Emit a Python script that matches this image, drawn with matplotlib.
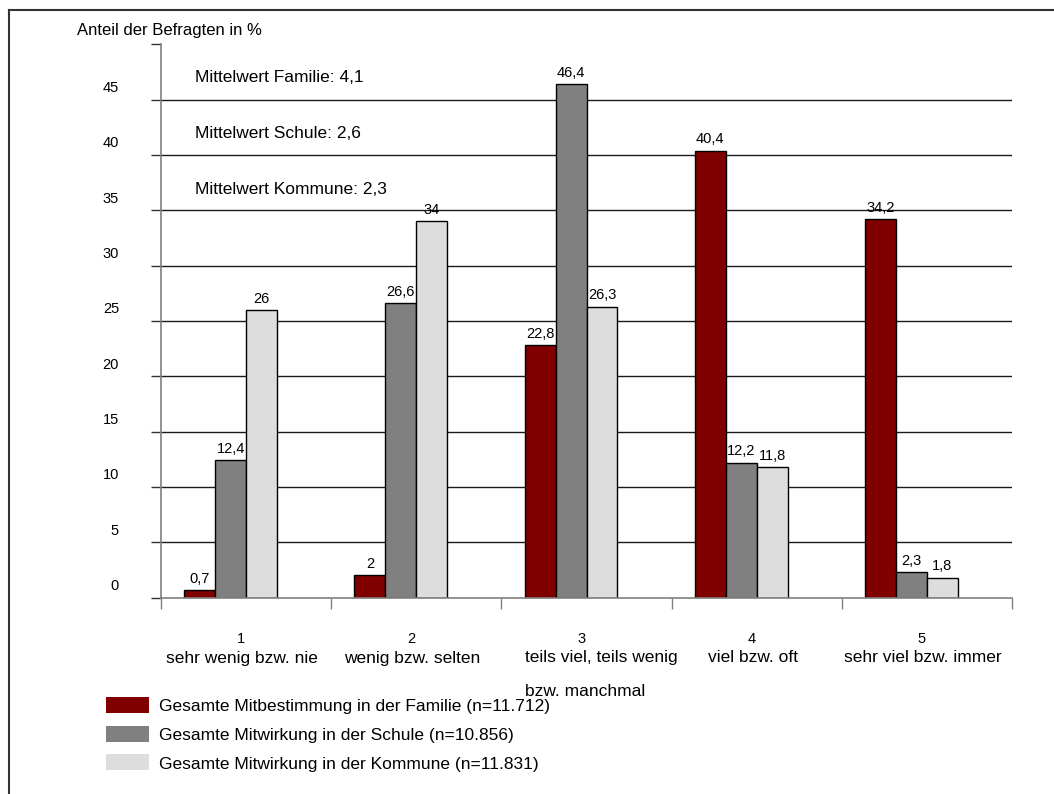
import numpy as np
import matplotlib
matplotlib.use("Agg")
import matplotlib.pyplot as plt
import matplotlib.transforms as mtransforms
from matplotlib.patches import Rectangle
from matplotlib.lines import Line2D

plt.rcParams["font.family"] = ["Liberation Sans", "DejaVu Sans"]

###############################################
# Data
###############################################

category_numbers = ["1", "2", "3", "4", "5"]
category_texts = ["sehr wenig bzw. nie", "wenig bzw. selten",
                  "teils viel, teils wenig\n\nbzw. manchmal",
                  "viel bzw. oft", "sehr viel bzw. immer"]

familie = [0.7, 2.0, 22.8, 40.4, 34.2]
schule = [12.4, 26.6, 46.4, 12.2, 2.3]
kommune = [26.0, 34.0, 26.3, 11.8, 1.8]

series_names = ["Gesamte Mitbestimmung in der Familie (n=11.712)",
                "Gesamte Mitwirkung in der Schule (n=10.856)",
                "Gesamte Mitwirkung in der Kommune (n=11.831)"]
series_colors = ["#800000", "#808080", "#dddddd"]

mean_notes = ["Mittelwert Familie: 4,1",
              "Mittelwert Schule: 2,6",
              "Mittelwert Kommune: 2,3"]

###############################################
# Figure
###############################################

W, H = 1054, 794
fig = plt.figure(figsize=(W / 100, H / 100), dpi=100)
ax = fig.add_axes([161 / W, 1 - 597.5 / H, (1012 - 161) / W, (597.5 - 44.3) / H])

x = np.arange(len(familie))
w = 0.182
# four slots per category, the last one stays empty
for k, (vals, col) in enumerate(zip([familie, schule, kommune], series_colors)):
    xs = x + (k - 1.5) * w
    ax.bar(xs, vals, width=w, color=col, edgecolor="black", linewidth=1.0, zorder=3)
    for xi, v in zip(xs, vals):
        ax.annotate(f"{v:g}".replace(".", ","), (xi, v), xytext=(0, 3),
                    textcoords="offset points", ha="center", va="bottom", fontsize=10.5)

ax.set_xlim(-0.5, len(familie) - 0.5)
ax.set_ylim(0, 50)

# horizontal lines at every 5 %, none at the top
for y in range(5, 50, 5):
    ax.axhline(y, color="#1a1a1a", linewidth=1.0, zorder=1)

ax.set_yticks(np.arange(0, 51, 5))
ax.set_yticklabels([str(v) for v in range(0, 50, 5)] + [""])
ax.tick_params(axis="y", length=7.2, width=1, color="#333333", pad=23, labelsize=10.5)
for lab in ax.get_yticklabels():
    lab.set_transform(lab.get_transform() +
                      mtransforms.ScaledTranslation(0, 13 / 100, fig.dpi_scale_trans))

ax.set_xticks(np.arange(-0.5, len(familie), 1.0))
ax.set_xticklabels([])
ax.tick_params(axis="x", length=8, width=1, color="#808080")

for side in ["top", "right"]:
    ax.spines[side].set_visible(False)
for side in ["left", "bottom"]:
    ax.spines[side].set_color("#808080")
    ax.spines[side].set_linewidth(1.2)
ax.spines["bottom"].set_zorder(4)

# category labels under the axis
tr = mtransforms.blended_transform_factory(ax.transData, fig.transFigure)
px = 1 / 170.2
for i, (num, txt) in enumerate(zip(category_numbers, category_texts)):
    ax.text(i - 5 * px, 1 - 639 / H, num, transform=tr, ha="center", va="center",
            fontsize=10.5)
    if "\n" in txt:
        ax.text(i + 14.5 * px, 1 - 650 / H, txt, transform=tr, ha="center", va="top",
                multialignment="left", fontsize=12.5, linespacing=1.15)
    else:
        ax.text(i - 4 * px, 1 - 658 / H, txt, transform=tr, ha="center", va="center",
                fontsize=12.5)

# mean values in the upper left
for note, yy in zip(mean_notes, [78, 133, 189]):
    fig.text(195 / W, 1 - yy / H, note, ha="left", va="center", fontsize=12.5)

fig.text(77 / W, 1 - 30 / H, "Anteil der Befragten in %", ha="left", va="center",
         fontsize=12)

# legend
for name, col, yy in zip(series_names, series_colors, [705, 733.5, 762]):
    fig.add_artist(Rectangle((106 / W, 1 - (yy + 8) / H), 43 / W, 16 / H,
                             transform=fig.transFigure, facecolor=col, edgecolor="none"))
    fig.text(159 / W, 1 - (yy + 2) / H, name, ha="left", va="center", fontsize=12.5)

# frame lines
fig.add_artist(Line2D([9 / W, 1], [1 - 9.5 / H, 1 - 9.5 / H], transform=fig.transFigure,
                      color="#333333", linewidth=1.5))
fig.add_artist(Line2D([9 / W, 9 / W], [0, 1 - 9.5 / H], transform=fig.transFigure,
                      color="#333333", linewidth=1.5))

fig.savefig("out.png", dpi=100, facecolor="white")
